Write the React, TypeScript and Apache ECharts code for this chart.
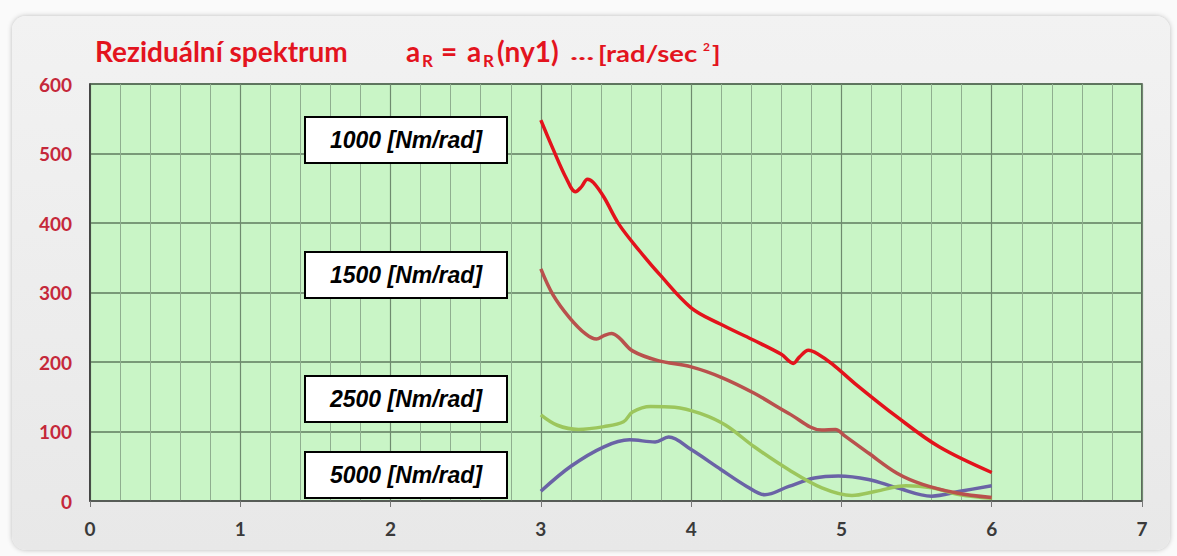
import React, { useEffect, useRef } from "react";
import * as echarts from "echarts";

// ---- data (x = ny1, y = a_R [rad/sec^2]) ----
const xTicks = [0, 1, 2, 3, 4, 5, 6, 7];
const yTicks = [0, 100, 200, 300, 400, 500, 600];

const k1000: [number, number][] = [
  [3.0, 548], [3.08, 507], [3.17, 464], [3.23, 445], [3.27, 452], [3.31, 463], [3.35, 458],
  [3.42, 437], [3.52, 398], [3.66, 359], [3.79, 326], [4.0, 278], [4.19, 255], [4.41, 232],
  [4.6, 211], [4.68, 198], [4.72, 207], [4.78, 217], [4.84, 212], [4.94, 197], [5.09, 169],
  [5.37, 121], [5.65, 78], [6.0, 41],
];
const k1500: [number, number][] = [
  [3.0, 334], [3.08, 297], [3.19, 264], [3.3, 240], [3.37, 233], [3.42, 238], [3.47, 241],
  [3.52, 235], [3.61, 216], [3.78, 202], [4.0, 193], [4.2, 178], [4.42, 155], [4.65, 126],
  [4.87, 102], [4.96, 103], [5.02, 94], [5.18, 69], [5.37, 40], [5.54, 24], [5.76, 12], [6.0, 5],
];
const k2500: [number, number][] = [
  [3.0, 124], [3.11, 109], [3.25, 103], [3.42, 107], [3.55, 114], [3.61, 128], [3.73, 136],
  [3.89, 135], [4.06, 126], [4.23, 109], [4.42, 78], [4.65, 45], [4.87, 19], [5.07, 8],
  [5.23, 14], [5.43, 22], [5.6, 19], [5.79, 9], [6.0, 4],
];
const k5000: [number, number][] = [
  [3.0, 14], [3.2, 50], [3.42, 78], [3.59, 88], [3.76, 85], [3.85, 92], [4.0, 74], [4.2, 45],
  [4.37, 21], [4.49, 9], [4.65, 21], [4.82, 33], [4.98, 36], [5.18, 31], [5.37, 19], [5.6, 7],
  [5.79, 14], [6.0, 22],
];

const seriesNames = ["1000 [Nm/rad]", "1500 [Nm/rad]", "2500 [Nm/rad]", "5000 [Nm/rad]"];
const seriesData = [k1000, k1500, k2500, k5000];
const seriesColors = ["#e3131c", "#b9514d", "#9cc65c", "#6a63a6"];
const labelBoxTops = [117, 252, 376, 452];

export default function App() {
  const ref = useRef<HTMLDivElement>(null);

  useEffect(() => {
    if (!ref.current) return;
    const chart = echarts.init(ref.current, undefined, { renderer: "svg" });
    const titleColor = "#e3141e";
    const tFont = "Lato, 'Open Sans', sans-serif";
    const big = `bold 28px ${tFont}`;
    const sub = `bold 17px ${tFont}`;
    const small = `bold 22px ${tFont}`;

    const graphic: any[] = [
      { type: "text", x: 95, y: 37, z: 100, style: { text: "Reziduální spektrum", fill: titleColor, font: big } },
      { type: "text", x: 406, y: 37, z: 100, style: { text: "a", fill: titleColor, font: big } },
      { type: "text", x: 422, y: 52, z: 100, style: { text: "R", fill: titleColor, font: sub } },
      { type: "text", x: 441, y: 37, z: 100, style: { text: "=", fill: titleColor, font: big } },
      { type: "text", x: 467, y: 37, z: 100, style: { text: "a", fill: titleColor, font: big } },
      { type: "text", x: 483, y: 52, z: 100, style: { text: "R", fill: titleColor, font: sub } },
      { type: "text", x: 497, y: 37, z: 100, style: { text: "(ny1)", fill: titleColor, font: big } },
      { type: "text", x: 570, y: 43, z: 100, scaleX: 1.8, style: { text: "...", fill: titleColor, font: `bold 19px ${tFont}` } },
      { type: "text", x: 598, y: 42, z: 100, scaleX: 1.25, style: { text: "[rad/sec", fill: titleColor, font: small } },
      { type: "text", x: 703, y: 40, z: 100, style: { text: "2", fill: titleColor, font: `bold 12px ${tFont}` } },
      { type: "text", x: 712, y: 42, z: 100, scaleX: 1.25, style: { text: "]", fill: titleColor, font: small } },
    ];
    seriesNames.forEach((name, i) => {
      graphic.push({
        type: "rect", z: 100,
        shape: { x: 305, y: labelBoxTops[i], width: 202, height: 46 },
        style: { fill: "#ffffff", stroke: "#000000", lineWidth: 2 },
      });
      graphic.push({
        type: "text", z: 101, x: 406, y: labelBoxTops[i] + 23,
        style: {
          text: name, fill: "#000000", align: "center", verticalAlign: "middle",
          font: "italic bold 23px 'Liberation Sans', Arial, sans-serif",
        },
      });
    });

    chart.setOption({
      animation: false,
      grid: {
        left: 90, right: 35, top: 84, bottom: 55,
        show: true, backgroundColor: "#c9f5c6", borderColor: "#3a3a3a", borderWidth: 1.5,
      },
      xAxis: {
        type: "value", min: xTicks[0], max: xTicks[xTicks.length - 1], interval: 1,
        axisLine: { show: true, lineStyle: { color: "#555", width: 1.5 } },
        axisTick: { show: true, length: 6, lineStyle: { color: "#777" } },
        axisLabel: { color: "#3a3a3a", fontWeight: "bold", fontSize: 19, fontFamily: tFont, margin: 18 },
        splitLine: { show: true, lineStyle: { color: "#6f8a6f", width: 1.2 } },
        minorTick: { show: false, splitNumber: 5 },
        minorSplitLine: { show: true, lineStyle: { color: "#8fae8f", width: 1 } },
      },
      yAxis: {
        type: "value", min: yTicks[0], max: yTicks[yTicks.length - 1], interval: 100,
        axisLine: { show: true, lineStyle: { color: "#3a3a3a", width: 1.5 } },
        axisTick: { show: false },
        axisLabel: { color: "#c5283a", fontWeight: "bold", fontSize: 19, fontFamily: tFont, margin: 18 },
        splitLine: { show: true, lineStyle: { color: "#5e7a5e", width: 1.5 } },
      },
      series: seriesData.map((d, i) => ({
        type: "line", name: seriesNames[i], data: d, smooth: 0.35, showSymbol: false,
        lineStyle: { color: seriesColors[i], width: 3.5 },
        itemStyle: { color: seriesColors[i] },
        z: 10 - i,
      })),
      graphic,
    });
    return () => chart.dispose();
  }, []);

  return (
    <div style={{ position: "fixed", left: 0, top: 0, width: 1177, height: 556, background: "#fafafa" }}>
      <div
        style={{
          position: "absolute", left: 12, top: 16, width: 1158, height: 534,
          background: "linear-gradient(#f2f2f2, #e8e8e8)", borderRadius: 14,
          boxShadow: "0 0 5px rgba(0,0,0,0.25)",
        }}
      />
      <div ref={ref} style={{ position: "absolute", left: 0, top: 0, width: 1177, height: 556 }} />
    </div>
  );
}
